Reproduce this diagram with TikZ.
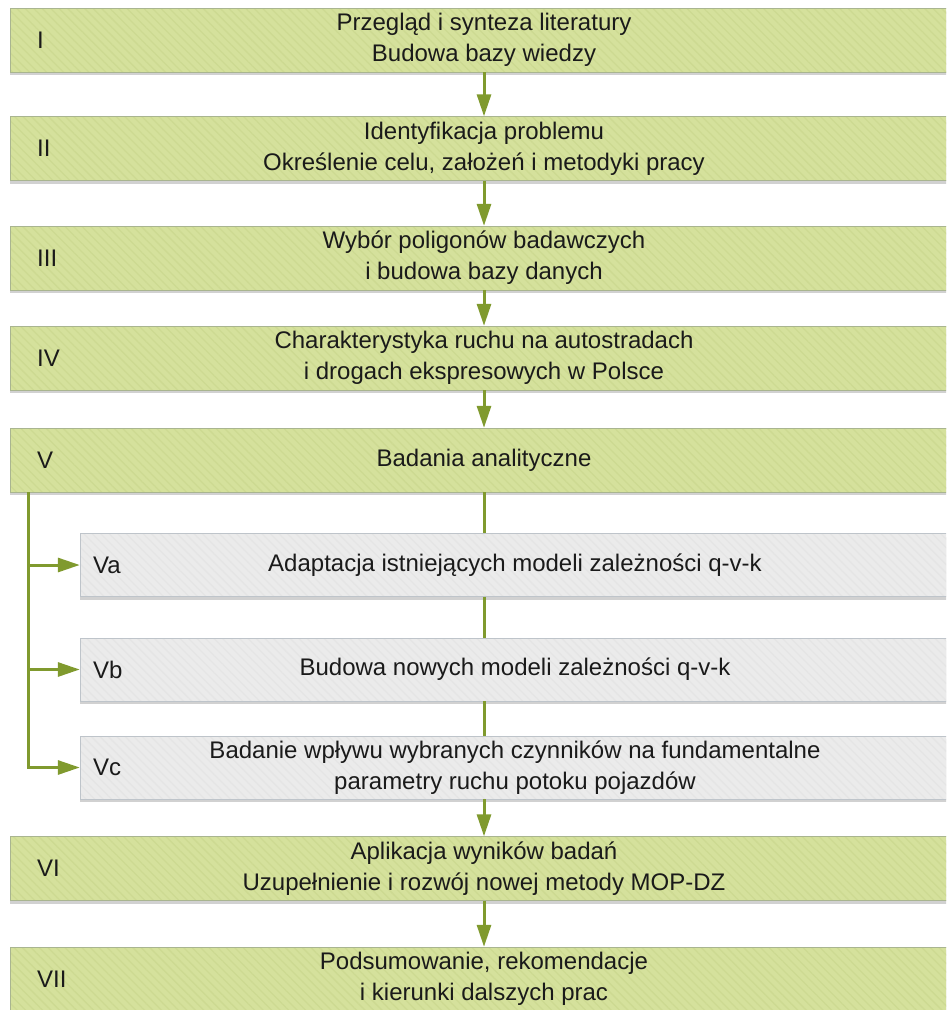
\documentclass[tikz,border=0pt]{standalone}
\usepackage{fontspec}
\setmainfont{Liberation Sans}
\usetikzlibrary{arrows.meta,shadows,patterns.meta}
\definecolor{gfill}{HTML}{D5E19C}
\definecolor{gstripe}{HTML}{CDDA92}
\definecolor{gborder}{HTML}{A9B590}
\definecolor{sfill}{HTML}{EBEBEB}
\definecolor{sstripe}{HTML}{E5E5E5}
\definecolor{sborder}{HTML}{BEC4CA}
\definecolor{olive}{HTML}{809A2E}
\definecolor{txt}{HTML}{1A1A1A}
\tikzset{
  boxbase/.style={inner sep=0pt, align=center, text=txt,
    font=\fontsize{24}{31}\selectfont,
    drop shadow={shadow xshift=0pt, shadow yshift=-3pt, fill=black!45, opacity=0.4}},
  mainbox/.style={boxbase, fill=gfill, minimum width=948pt, minimum height=64pt,
    postaction={pattern={Lines[angle=-45,distance=6pt,line width=1.3pt]}, pattern color=gstripe},
    postaction={draw=gborder, line width=1pt}},
  subbox/.style={boxbase, fill=sfill, minimum width=870pt, minimum height=63pt,
    postaction={pattern={Lines[angle=-45,distance=6pt,line width=1.3pt]}, pattern color=sstripe},
    postaction={draw=sborder, line width=1pt}},
  lbl/.style={anchor=west, inner sep=0pt, text=txt, font=\fontsize{24}{31}\selectfont},
  conn/.style={draw=olive, line width=3pt, -{Triangle[width=14pt,length=22pt]}},
  plain/.style={draw=olive, line width=3pt}
}
\begin{document}
\begin{tikzpicture}[x=1pt,y=-1pt]
\useasboundingbox (0,0) rectangle (946,1010);
\clip (0,0) rectangle (946,1010);
\node[mainbox] (b1) at (484,40) {Przegląd i synteza literatury\\Budowa bazy wiedzy};
\node[lbl] (l1) at (37,40) {I};
\node[mainbox] (b2) at (484,148.5) {Identyfikacja problemu\\Określenie celu, założeń i metodyki pracy};
\node[lbl] (l2) at (37,148.5) {II};
\node[mainbox] (b3) at (484,258) {Wybór poligonów badawczych\\i budowa bazy danych};
\node[lbl] (l3) at (37,258) {III};
\node[mainbox] (b4) at (484,358) {Charakterystyka ruchu na autostradach\\i drogach ekspresowych w Polsce};
\node[lbl] (l4) at (37,358) {IV};
\node[mainbox] (b5) at (484,460) {Badania analityczne};
\node[lbl] (l5) at (37,460) {V};
\node[subbox] (va) at (515,565) {Adaptacja istniejących modeli zależności q-v-k};
\node[lbl] (lva) at (93,565) {Va};
\node[subbox] (vb) at (515,669.5) {Budowa nowych modeli zależności q-v-k};
\node[lbl] (lvb) at (93,669.5) {Vb};
\node[subbox] (vc) at (515,767.5) {Badanie wpływu wybranych czynników na fundamentalne\\parametry ruchu potoku pojazdów};
\node[lbl] (lvc) at (93,767.5) {Vc};
\node[mainbox] (b6) at (484,868.5) {Aplikacja wyników badań\\Uzupełnienie i rozwój nowej metody MOP-DZ};
\node[lbl] (l6) at (37,868.5) {VI};
\node[mainbox] (b7) at (484,979) {Podsumowanie, rekomendacje\\i kierunki dalszych prac};
\node[lbl] (l7) at (37,979) {VII};
\draw[conn] (b1.south) -- (b2.north);
\draw[conn] (b2.south) -- (b3.north);
\draw[conn] (b3.south) -- (b4.north);
\draw[conn] (b4.south) -- (b5.north);
\draw[plain] (b5.south) -- (b5.south |- va.north);
\draw[plain] (b5.south |- va.south) -- (b5.south |- vb.north);
\draw[plain] (b5.south |- vb.south) -- (b5.south |- vc.north);
\draw[conn] (b6.north |- vc.south) -- (b6.north);
\draw[conn] (b6.south) -- (b7.north);
\coordinate (trunk) at ([xshift=19pt]b5.south west);
\draw[conn] (trunk) |- (vc.west);
\draw[conn] (trunk |- va.west) -- (va.west);
\draw[conn] (trunk |- vb.west) -- (vb.west);
\end{tikzpicture}
\end{document}
